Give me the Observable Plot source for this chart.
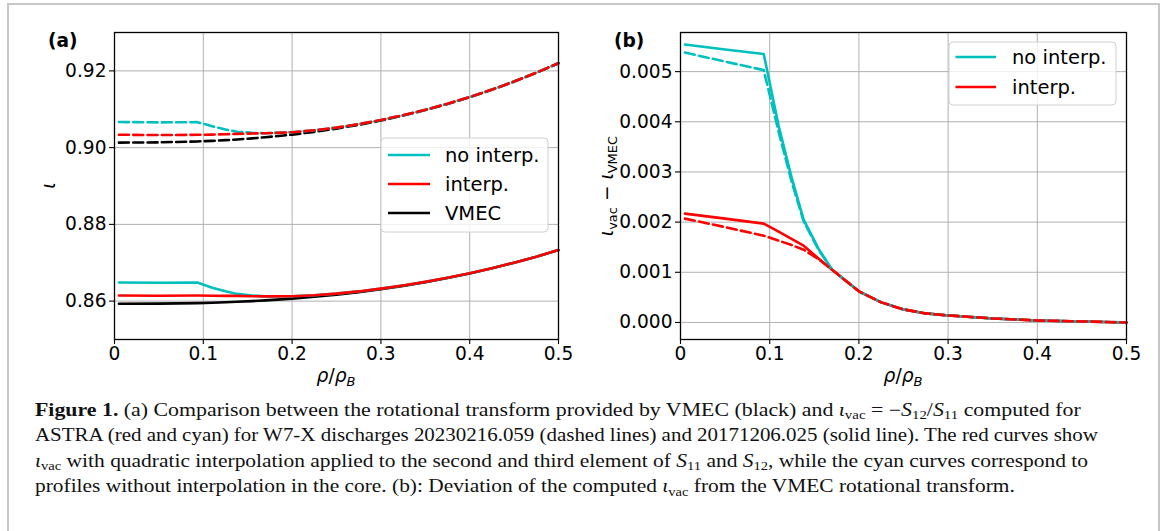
<!DOCTYPE html>
<html>
<head>
<meta charset="utf-8">
<script src="https://cdn.jsdelivr.net/npm/d3@7"></script>
<script src="https://cdn.jsdelivr.net/npm/@observablehq/plot@0.6"></script>
<style>
html, body { margin: 0; padding: 0; background: #fff; }
#fig { position: relative; width: 1167px; height: 531px; overflow: hidden; background: #fff; }
#fig > svg { position: absolute; }
</style>
</head>
<body>
<div id="fig"></div>
<script>
// ---------- data ----------
const xs = [0.005, 0.05, 0.0933, 0.11, 0.125, 0.138, 0.155, 0.17, 0.2, 0.225, 0.25, 0.275, 0.3, 0.325, 0.35, 0.375, 0.4, 0.425, 0.45, 0.475, 0.5];

// panel (a): rotational transform, discharge 20171206.025 (solid)
const iotaVmecSolid     = [0.8593, 0.85934, 0.85949, 0.85959, 0.85971, 0.85983, 0.86001, 0.86019, 0.86065, 0.86113, 0.86169, 0.86235, 0.86311, 0.86397, 0.86494, 0.86602, 0.86722, 0.86855, 0.87000, 0.87158, 0.8733];
const iotaNoInterpSolid = [0.86484, 0.86478, 0.86484, 0.86351, 0.86257, 0.86188, 0.86147, 0.86124, 0.86127, 0.86153, 0.86195, 0.86253, 0.86325, 0.86408, 0.86502, 0.86608, 0.86726, 0.86858, 0.87002, 0.87159, 0.8733];
const iotaInterpSolid   = [0.86147, 0.86141, 0.86146, 0.8614, 0.86137, 0.86136, 0.86128, 0.86124, 0.86127, 0.86153, 0.86195, 0.86253, 0.86325, 0.86408, 0.86502, 0.86608, 0.86726, 0.86858, 0.87002, 0.87159, 0.8733];
// panel (a): discharge 20230216.059 (dashed)
const iotaVmecDashed     = [0.9013, 0.90137, 0.90161, 0.90177, 0.90195, 0.90213, 0.90241, 0.9027, 0.90339, 0.90411, 0.90496, 0.90594, 0.90707, 0.90835, 0.90979, 0.91138, 0.91315, 0.91509, 0.91721, 0.91951, 0.9220];
const iotaNoInterpDashed = [0.90668, 0.90657, 0.90664, 0.90557, 0.90473, 0.90415, 0.90385, 0.90375, 0.90401, 0.90451, 0.90522, 0.90612, 0.90721, 0.90846, 0.90987, 0.91144, 0.91319, 0.91512, 0.91723, 0.91952, 0.9220];
const iotaInterpDashed   = [0.90337, 0.90327, 0.90334, 0.9034, 0.90349, 0.90358, 0.90367, 0.90375, 0.90401, 0.90451, 0.90522, 0.90612, 0.90721, 0.90846, 0.90987, 0.91144, 0.91319, 0.91512, 0.91723, 0.91952, 0.9220];

// panel (b): deviation iota_vac - iota_VMEC
const devNoInterpSolid  = [0.00554, 0.00544, 0.00535, 0.00392, 0.00286, 0.00205, 0.00146, 0.00105, 0.00062, 0.0004, 0.00026, 0.00018, 0.00014, 0.00011, 0.00008, 0.00006, 0.00004, 0.00003, 0.00002, 0.00001, 0];
const devInterpSolid    = [0.00217, 0.00207, 0.00197, 0.00181, 0.00166, 0.00153, 0.00127, 0.00105, 0.00062, 0.0004, 0.00026, 0.00018, 0.00014, 0.00011, 0.00008, 0.00006, 0.00004, 0.00003, 0.00002, 0.00001, 0];
const devNoInterpDashed = [0.00538, 0.0052, 0.00503, 0.0038, 0.00278, 0.00202, 0.00144, 0.00105, 0.00062, 0.0004, 0.00026, 0.00018, 0.00014, 0.00011, 0.00008, 0.00006, 0.00004, 0.00003, 0.00002, 0.00001, 0];
const devInterpDashed   = [0.00207, 0.0019, 0.00173, 0.00163, 0.00154, 0.00145, 0.00126, 0.00105, 0.00062, 0.0004, 0.00026, 0.00018, 0.00014, 0.00011, 0.00008, 0.00006, 0.00004, 0.00003, 0.00002, 0.00001, 0];

// ticks and labels
const xTicks  = [0, 0.1, 0.2, 0.3, 0.4, 0.5];
const yTicksA = [0.86, 0.88, 0.90, 0.92];
const yTicksB = [0, 0.001, 0.002, 0.003, 0.004, 0.005];
const legendLabelsA = ["no interp.", "interp.", "VMEC"];
const legendLabelsB = ["no interp.", "interp."];
const panelLabels = ["(a)", "(b)"];

const CYAN = "#00bfbf", RED = "#ff0000", BLACK = "#000000";
const FONT = "'DejaVu Sans', sans-serif";

// ---------- helpers ----------
function series(ys) { return xs.map((x, i) => ({x, y: ys[i]})); }

function makePanel({width, ml, mr, yDomain, yTicks, yFmt, lines}) {
  return Plot.plot({
    width, height: 400,
    marginLeft: ml, marginRight: mr, marginTop: 32, marginBottom: 61,
    style: {fontFamily: FONT, fontSize: "18.6px", color: "#000", background: "transparent", overflow: "visible"},
    x: {domain: [0, 0.5], label: null},
    y: {domain: yDomain, label: null},
    marks: [
      Plot.gridX(xTicks, {stroke: "#b0b0b0", strokeOpacity: 1, strokeWidth: 1}),
      Plot.gridY(yTicks, {stroke: "#b0b0b0", strokeOpacity: 1, strokeWidth: 1}),
      ...lines.map(l => Plot.line(series(l.ys), {
        x: "x", y: "y", stroke: l.color, strokeWidth: 2.6,
        strokeLinejoin: "round",
        ...(l.dashed ? {strokeDasharray: "10,4.3"} : {})
      })),
      Plot.frame({stroke: "#000", strokeWidth: 1.3}),
      Plot.axisX(xTicks, {tickSize: 5, tickPadding: 2, strokeWidth: 1.1, label: null,
        tickFormat: d => d === 0 ? "0" : d3.format(".1f")(d)}),
      Plot.axisY(yTicks, {tickSize: 5, tickPadding: 3, strokeWidth: 1.1, label: null, tickFormat: yFmt})
    ]
  });
}

function addLegend(svg, {bx, by, bw, bh, rows, hx0, hx1, tx, labels, colors}) {
  const g = svg.append("g");
  g.append("rect").attr("x", bx).attr("y", by).attr("width", bw).attr("height", bh)
    .attr("rx", 4).attr("fill", "#fff").attr("fill-opacity", 0.8)
    .attr("stroke", "#d0d0d0").attr("stroke-width", 1);
  labels.forEach((lab, i) => {
    g.append("line").attr("x1", hx0).attr("x2", hx1).attr("y1", rows[i]).attr("y2", rows[i])
      .attr("stroke", colors[i]).attr("stroke-width", 2.6);
    g.append("text").attr("x", tx).attr("y", rows[i] + 7).attr("text-anchor", "start")
      .attr("font-family", FONT).attr("font-size", "19.5px").attr("fill", "#000").text(lab);
  });
}

function addMathText(parent, x, y, parts, size, opts = {}) {
  const t = parent.append("text").attr("x", x).attr("y", y)
    .attr("font-family", FONT).attr("font-size", size + "px").attr("fill", "#000")
    .attr("text-anchor", opts.anchor || "start");
  if (opts.rotate) t.attr("transform", `rotate(-90 ${x} ${y})`);
  let shift = 0;
  parts.forEach(([txt, st]) => {
    const ts = t.append("tspan").text(txt);
    let target = 0;
    if (st === "sub" || st === "isub") { target = size * 0.22; ts.attr("font-size", (size * 0.7) + "px"); }
    if (st === "i" || st === "isub") ts.attr("font-style", "italic");
    if (target !== shift) { ts.attr("dy", target - shift); shift = target; }
  });
  return t;
}

const fig = d3.select("#fig");

// ---------- panel (a) ----------
const svgA = makePanel({
  width: 580, ml: 114, mr: 22, yDomain: [0.85, 0.93], yTicks: yTicksA, yFmt: d3.format(".2f"),
  lines: [
    {ys: iotaVmecSolid, color: BLACK},
    {ys: iotaNoInterpSolid, color: CYAN},
    {ys: iotaInterpSolid, color: RED},
    {ys: iotaVmecDashed, color: BLACK, dashed: true},
    {ys: iotaNoInterpDashed, color: CYAN, dashed: true},
    {ys: iotaInterpDashed, color: RED, dashed: true}
  ]
});
svgA.style.left = "0px"; svgA.style.top = "0px";
fig.node().appendChild(svgA);
const sA = d3.select(svgA);
addLegend(sA, {bx: 381, by: 138, bw: 167, bh: 94, rows: [155, 184, 213], hx0: 388, hx1: 430, tx: 445,
  labels: legendLabelsA, colors: [CYAN, RED, BLACK]});
sA.append("text").attr("x", 48).attr("y", 46.5).attr("text-anchor", "start").attr("font-family", FONT)
  .attr("font-weight", "bold").attr("font-size", "18.6px").text(panelLabels[0]);
addMathText(sA, 55, 185.5, [["ι", "i"]], 18.6, {rotate: true, anchor: "middle"});
addMathText(sA, 336, 382, [["ρ", "i"], ["/", "n"], ["ρ", "i"], ["B", "isub"]], 18.6, {anchor: "middle"});

// ---------- panel (b) ----------
const svgB = makePanel({
  width: 587, ml: 100, mr: 41, yDomain: [-0.00034, 0.00578], yTicks: yTicksB, yFmt: d3.format(".3f"),
  lines: [
    {ys: devNoInterpSolid, color: CYAN},
    {ys: devInterpSolid, color: RED},
    {ys: devNoInterpDashed, color: CYAN, dashed: true},
    {ys: devInterpDashed, color: RED, dashed: true}
  ]
});
svgB.style.left = "580px"; svgB.style.top = "0px";
fig.node().appendChild(svgB);
const sB = d3.select(svgB);
addLegend(sB, {bx: 369, by: 42, bw: 167, bh: 63, rows: [57, 87], hx0: 375.5, hx1: 416, tx: 432,
  labels: legendLabelsB, colors: [CYAN, RED]});
sB.append("text").attr("x", 34).attr("y", 46.5).attr("text-anchor", "start").attr("font-family", FONT)
  .attr("font-weight", "bold").attr("font-size", "18.6px").text(panelLabels[1]);
addMathText(sB, 33, 186, [["ι", "i"], ["vac", "sub"], [" − ", "n"], ["ι", "i"], ["VMEC", "sub"]], 18.6, {rotate: true, anchor: "middle"});
addMathText(sB, 323, 382, [["ρ", "i"], ["/", "n"], ["ρ", "i"], ["B", "isub"]], 18.6, {anchor: "middle"});

// ---------- overlay: figure frame and caption ----------
const over = fig.append("svg").attr("width", 1167).attr("height", 531)
  .style("left", "0px").style("top", "0px").style("pointer-events", "none");
over.append("rect").attr("x", 8).attr("y", 4).attr("width", 1151).attr("height", 700)
  .attr("fill", "none").attr("stroke", "#c6c6c6").attr("stroke-width", 2);

const captionLines = [
  [["Figure 1.", "b"], [" (a) Comparison between the rotational transform provided by VMEC (black) and ", "n"], ["ι", "i"], ["vac", "sub"], [" = −", "n"], ["S", "i"], ["12", "sub"], ["/", "n"], ["S", "i"], ["11", "sub"], [" computed for", "n"]],
  [["ASTRA (red and cyan) for W7-X discharges 20230216.059 (dashed lines) and 20171206.025 (solid line). The red curves show", "n"]],
  [["ι", "i"], ["vac", "sub"], [" with quadratic interpolation applied to the second and third element of ", "n"], ["S", "i"], ["11", "sub"], [" and ", "n"], ["S", "i"], ["12", "sub"], [", while the cyan curves correspond to", "n"]],
  [["profiles without interpolation in the core. (b): Deviation of the computed ", "n"], ["ι", "i"], ["vac", "sub"], [" from the VMEC rotational transform.", "n"]]
];
const capBaselines = [415.5, 441, 466.5, 492];
const capRight = [1081, 1099, 1089, 1015];
const capLeft = 35;
captionLines.forEach((parts, k) => {
  const size = 18;
  const t = over.append("text").attr("x", 0).attr("y", 0)
    .attr("font-family", "'Liberation Serif', 'Times New Roman', serif")
    .attr("font-size", size + "px").attr("fill", "#111");
  let shift = 0;
  parts.forEach(([txt, st]) => {
    const ts = t.append("tspan").text(txt);
    let target = 0;
    if (st === "sub") { target = 3.5; ts.attr("font-size", (size * 0.68) + "px"); }
    if (st === "i") ts.attr("font-style", "italic");
    if (st === "b") ts.attr("font-weight", "bold");
    if (target !== shift) { ts.attr("dy", target - shift); shift = target; }
  });
  const w = t.node().getBBox().width;
  const sx = (capRight[k] - capLeft) / w;
  t.attr("transform", `translate(${capLeft},${capBaselines[k]}) scale(${sx},1)`);
});
</script>
</body>
</html>
